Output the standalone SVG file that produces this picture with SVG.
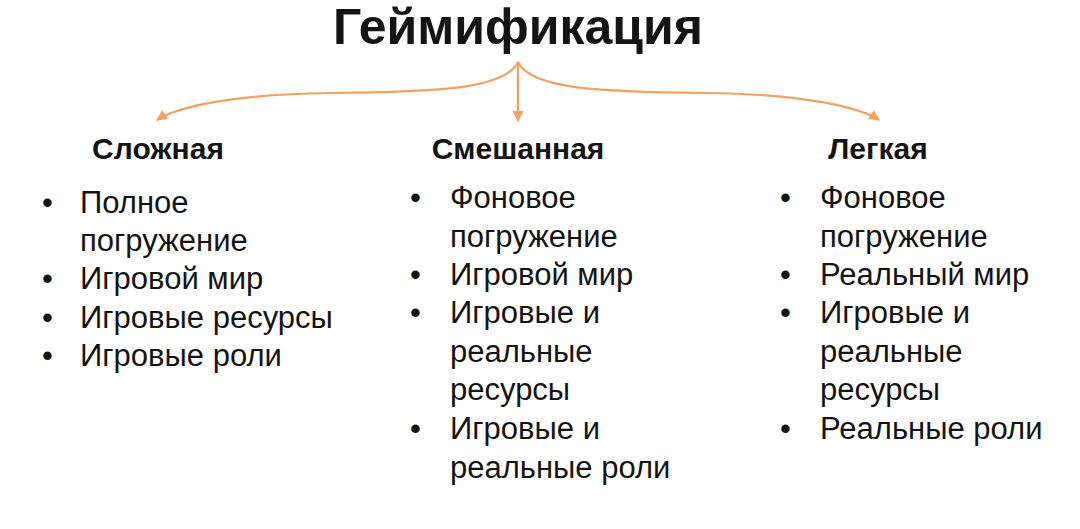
<svg xmlns="http://www.w3.org/2000/svg" width="1080" height="529" viewBox="0 0 1080 529">
<style>
text{font-family:"Liberation Sans",Arial,sans-serif;fill:#141414}
.title{font-size:50px;font-weight:bold}
.head{font-size:30px;font-weight:bold}
.item{font-size:31px}
.conn{fill:none;stroke:#F2A263;stroke-width:2.2}
</style>
<defs>
<marker id="arr" viewBox="0 0 10 10" refX="9" refY="5" markerWidth="5" markerHeight="5" orient="auto">
<path d="M0,0 L10,5 L0,10 z" fill="#F2A263"/>
</marker>
</defs>
<rect width="1080" height="529" fill="#ffffff"/>
<g id="title"><text class="title" x="518" y="44" text-anchor="middle">Геймификация</text></g>
<g id="connectors">
<path class="conn" d="M518,62 C505,90 430,92 330,93 C230,94 175,108 157,120" marker-end="url(#arr)"/>
<path class="conn" d="M518,62 L518,121" marker-end="url(#arr)"/>
<path class="conn" d="M518,62 C531,90 606,92 706,93 C806,94 861,108 879,120" marker-end="url(#arr)"/>
</g>
<g id="complex">
<text class="head" x="158" y="159" text-anchor="middle">Сложная</text>
<text class="item" x="42" y="213">•</text><text class="item" x="80" y="213">Полное</text>
<text class="item" x="80" y="251">погружение</text>
<text class="item" x="42" y="289">•</text><text class="item" x="80" y="289">Игровой мир</text>
<text class="item" x="42" y="328">•</text><text class="item" x="80" y="328">Игровые ресурсы</text>
<text class="item" x="42" y="366">•</text><text class="item" x="80" y="366">Игровые роли</text>
</g>
<g id="mixed">
<text class="head" x="518" y="159" text-anchor="middle">Смешанная</text>
<text class="item" x="410" y="208">•</text><text class="item" x="450" y="208">Фоновое</text>
<text class="item" x="450" y="247">погружение</text>
<text class="item" x="410" y="285">•</text><text class="item" x="450" y="285">Игровой мир</text>
<text class="item" x="410" y="323">•</text><text class="item" x="450" y="323">Игровые и</text>
<text class="item" x="450" y="362">реальные</text>
<text class="item" x="450" y="400">ресурсы</text>
<text class="item" x="410" y="439">•</text><text class="item" x="450" y="439">Игровые и</text>
<text class="item" x="450" y="478">реальные роли</text>
</g>
<g id="light">
<text class="head" x="878" y="159" text-anchor="middle">Легкая</text>
<text class="item" x="780" y="208">•</text><text class="item" x="820" y="208">Фоновое</text>
<text class="item" x="820" y="247">погружение</text>
<text class="item" x="780" y="285">•</text><text class="item" x="820" y="285">Реальный мир</text>
<text class="item" x="780" y="323">•</text><text class="item" x="820" y="323">Игровые и</text>
<text class="item" x="820" y="362">реальные</text>
<text class="item" x="820" y="400">ресурсы</text>
<text class="item" x="780" y="439">•</text><text class="item" x="820" y="439">Реальные роли</text>
</g>
</svg>
